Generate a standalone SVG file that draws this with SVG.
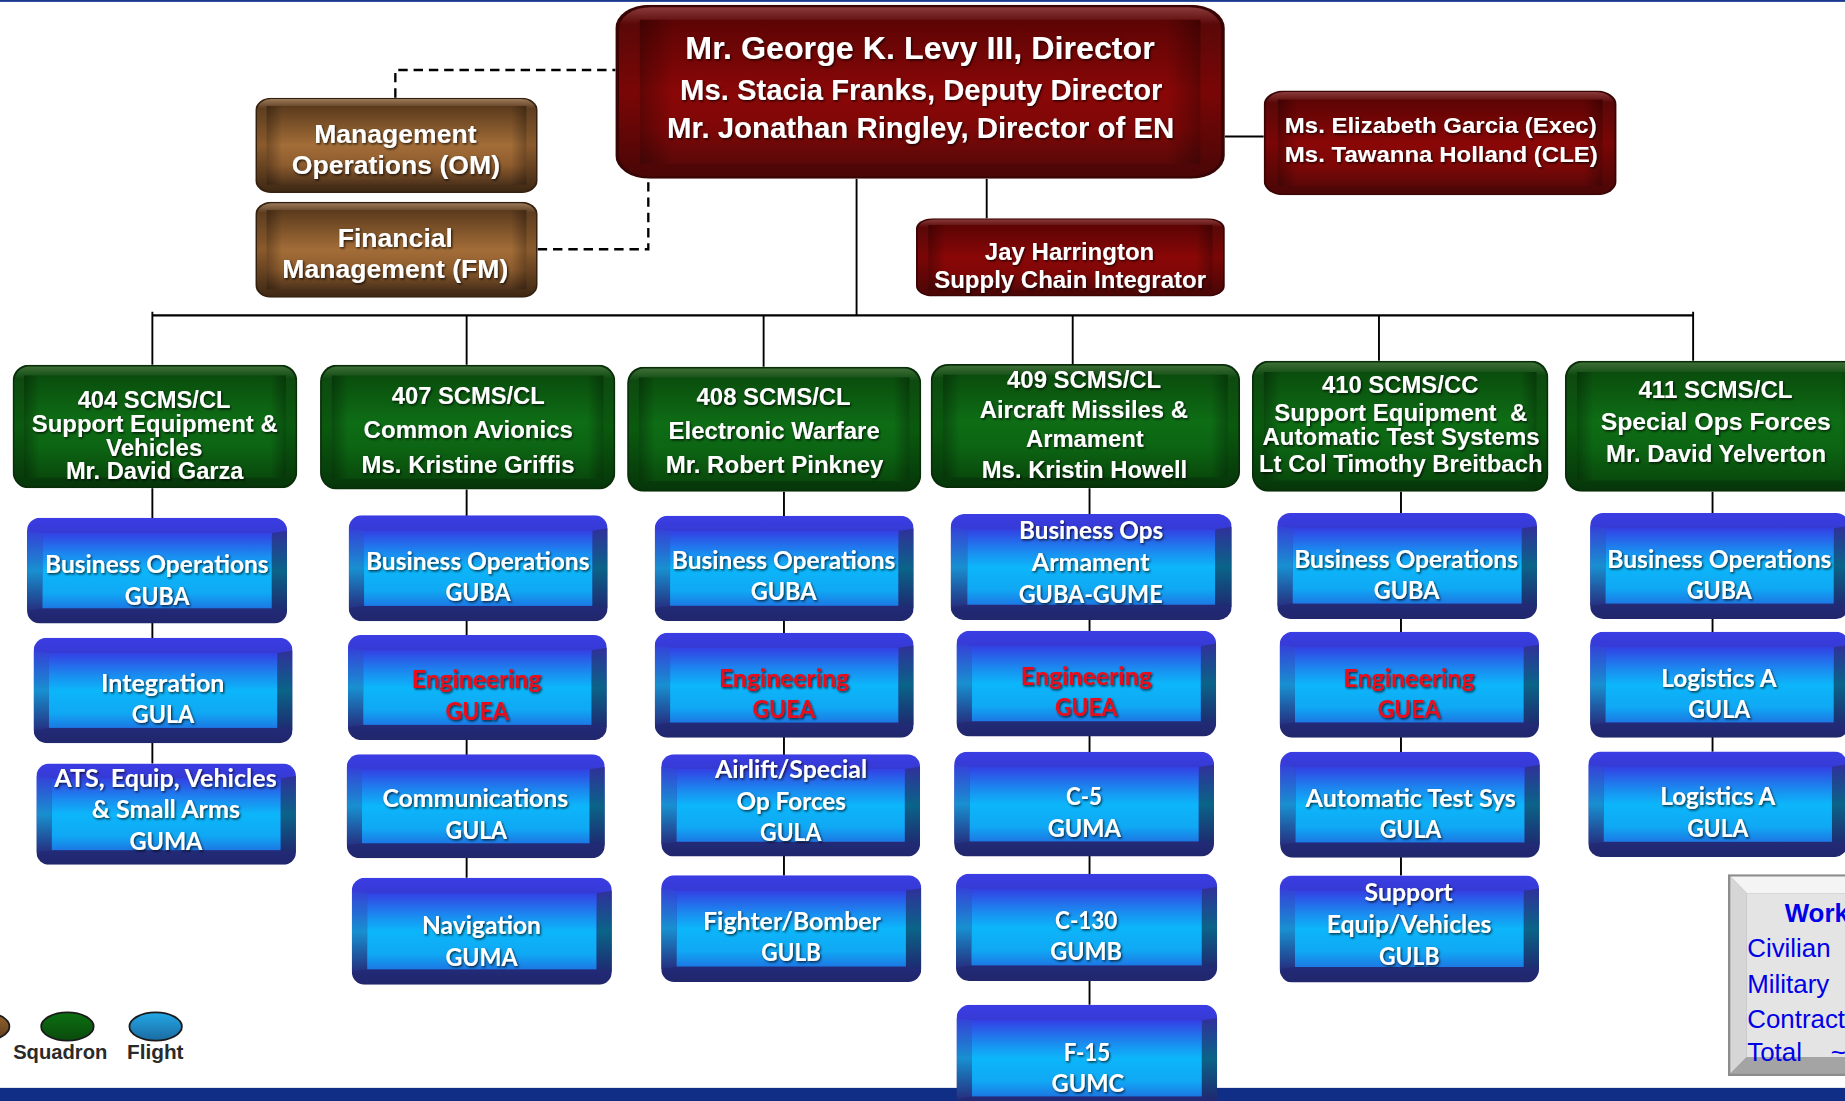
<svg xmlns="http://www.w3.org/2000/svg" width="1845" height="1101" viewBox="0 0 1845 1101">
<style>
.a{fill:#fff;font-family:"Liberation Sans",Arial,sans-serif;font-weight:700;text-anchor:middle}
.c{fill:#fff;font-family:Lato,"Open Sans",sans-serif;font-weight:700;text-anchor:middle;font-size:20.5px}
.r{fill:#e8101c}
.cn{stroke:#000;stroke-width:1.6;fill:none}
.ds{stroke:#000;stroke-width:2;fill:none;stroke-dasharray:8 5}
.wf{fill:#0000e6;font-family:"Liberation Sans",Arial,sans-serif;font-size:22px}
.lg{fill:#2a2a2a;font-family:"Liberation Sans",Arial,sans-serif;font-weight:700;font-size:17px;text-anchor:middle}
</style>
<defs>
<filter id="sh" x="-10%" y="-30%" width="120%" height="160%"><feDropShadow dx="1" dy="1.2" stdDeviation="0.7" flood-color="#000" flood-opacity="0.75"/></filter>
<linearGradient id="edge" x1="0" y1="0" x2="1" y2="0"><stop offset="0" stop-color="#000" stop-opacity="0.3"/><stop offset="0.06" stop-color="#000" stop-opacity="0"/><stop offset="0.94" stop-color="#000" stop-opacity="0"/><stop offset="1" stop-color="#000" stop-opacity="0.3"/></linearGradient>
<linearGradient id="gO" x1="0" y1="0" x2="0" y2="1"><stop offset="0" stop-color="#3d6e36"/><stop offset="0.1" stop-color="#0e4a10"/><stop offset="0.5" stop-color="#0a5a0e"/><stop offset="1" stop-color="#06360a"/></linearGradient>
<linearGradient id="gF" x1="0" y1="0" x2="0" y2="1"><stop offset="0" stop-color="#0a4d0d"/><stop offset="0.45" stop-color="#0e6d15"/><stop offset="0.7" stop-color="#0c6513"/><stop offset="1" stop-color="#094a0c"/></linearGradient>
<linearGradient id="rO" x1="0" y1="0" x2="0" y2="1"><stop offset="0" stop-color="#8a3a3a"/><stop offset="0.1" stop-color="#5a0808"/><stop offset="0.5" stop-color="#7a0606"/><stop offset="1" stop-color="#4a0606"/></linearGradient>
<linearGradient id="rF" x1="0" y1="0" x2="0" y2="1"><stop offset="0" stop-color="#5c0404"/><stop offset="0.5" stop-color="#8a0707"/><stop offset="0.75" stop-color="#800707"/><stop offset="1" stop-color="#5a0808"/></linearGradient>
<linearGradient id="bO" x1="0" y1="0" x2="0" y2="1"><stop offset="0" stop-color="#9a7a5a"/><stop offset="0.1" stop-color="#5e3e20"/><stop offset="0.5" stop-color="#8a5a2c"/><stop offset="1" stop-color="#3e2814"/></linearGradient>
<linearGradient id="bF" x1="0" y1="0" x2="0" y2="1"><stop offset="0" stop-color="#5a3a1c"/><stop offset="0.5" stop-color="#a36d38"/><stop offset="0.75" stop-color="#8e5c2e"/><stop offset="1" stop-color="#4d321b"/></linearGradient>
<linearGradient id="fO" x1="0" y1="0" x2="0" y2="1"><stop offset="0" stop-color="#3b3de4"/><stop offset="0.25" stop-color="#3238c8"/><stop offset="0.75" stop-color="#252c80"/><stop offset="1" stop-color="#20276c"/></linearGradient>
<linearGradient id="fF" x1="0" y1="0" x2="0" y2="1"><stop offset="0" stop-color="#3340e4"/><stop offset="0.3" stop-color="#1a8cf0"/><stop offset="0.5" stop-color="#0cb6fa"/><stop offset="0.8" stop-color="#10a8f4"/><stop offset="1" stop-color="#1c78e4"/></linearGradient>
<linearGradient id="fL" x1="0" y1="0" x2="0" y2="1"><stop offset="0" stop-color="#3540d8"/><stop offset="0.5" stop-color="#1890d0"/><stop offset="1" stop-color="#253080"/></linearGradient>
<linearGradient id="fR" x1="0" y1="0" x2="0" y2="1"><stop offset="0" stop-color="#30309a"/><stop offset="0.5" stop-color="#0a6488"/><stop offset="1" stop-color="#1e2a70"/></linearGradient>
<linearGradient id="grn" x1="0" y1="0" x2="0" y2="1"><stop offset="0" stop-color="#0c7012"/><stop offset="1" stop-color="#0a4a0c"/></linearGradient>
<linearGradient id="blu" x1="0" y1="0" x2="0" y2="1"><stop offset="0" stop-color="#24a8e8"/><stop offset="1" stop-color="#1a6aa0"/></linearGradient>
<linearGradient id="brn" x1="0" y1="0" x2="0" y2="1"><stop offset="0" stop-color="#9a6630"/><stop offset="1" stop-color="#5a3a1c"/></linearGradient>
<symbol id="sq" viewBox="0 0 250 104" preserveAspectRatio="none">
<rect width="250" height="104" rx="14" fill="#082e09"/>
<rect x="1.5" y="1.5" width="247" height="101" rx="13" fill="url(#gO)"/>
<rect x="10" y="9" width="230" height="86" fill="url(#gF)"/>
<rect x="10" y="9" width="230" height="86" fill="url(#edge)"/>
</symbol>
<symbol id="rd" viewBox="0 0 250 104" preserveAspectRatio="none">
<rect width="250" height="104" rx="14" fill="#3a0404"/>
<rect x="1.5" y="1.5" width="247" height="101" rx="13" fill="url(#rO)"/>
<rect x="10" y="9" width="230" height="86" fill="url(#rF)"/>
<rect x="10" y="9" width="230" height="86" fill="url(#edge)"/>
</symbol>
<symbol id="br" viewBox="0 0 250 104" preserveAspectRatio="none">
<rect width="250" height="104" rx="14" fill="#34200f"/>
<rect x="1.5" y="1.5" width="247" height="101" rx="13" fill="url(#bO)"/>
<rect x="10" y="9" width="230" height="86" fill="url(#bF)"/>
<rect x="10" y="9" width="230" height="86" fill="url(#edge)"/>
</symbol>
<symbol id="fl" viewBox="0 0 220 90" preserveAspectRatio="none">
<rect width="220" height="90" rx="11" fill="url(#fO)"/>
<path d="M0,11 L13,13 L13,77 L0,79Z" fill="url(#fL)"/>
<path d="M220,11 L207,13 L207,77 L220,79Z" fill="url(#fR)"/>
<rect x="13" y="13" width="194" height="64" fill="url(#fF)"/>
</symbol>
<symbol id="gy" viewBox="0 0 220 170" preserveAspectRatio="none">
<rect width="220" height="170" fill="#8c8c8c"/>
<path d="M2,2 H218 L204,16 H16Z" fill="#f4f4f4"/>
<path d="M2,2 L16,16 V154 L2,168Z" fill="#d6d6d6"/>
<path d="M218,2 L204,16 V154 L218,168Z" fill="#b0b0b0"/>
<path d="M2,168 L16,154 H204 L218,168Z" fill="#a4a4a4"/>
<rect x="16" y="16" width="188" height="138" fill="#e4e4e4"/>
</symbol>
</defs>
<rect width="1845" height="1101" fill="#fff"/>
<g transform="scale(1.1766)">
<rect x="0" y="0" width="1570" height="1.6" fill="#1b3a8f"/>
<rect x="0" y="924.6" width="1570" height="12" fill="#102e86"/>

<g id="connectors">
<path class="cn" d="M728,152 V268"/>
<path class="cn" d="M838.6,152 V185.5"/>
<path class="cn" d="M1041,116 H1074"/>
<path class="cn" style="stroke-width:2" d="M129.5,268 H1439"/>
<path class="cn" d="M129.5,265 V310 M396.6,268 V310 M649,268 V311.6 M911.7,268 V309.4 M1172,268 V306.5 M1439,265 V306.5"/>
<path class="cn" d="M129.5,415 V649 M396.6,416 V746 M666.3,418 V744 M926,415 V854 M1190.7,418 V744 M1455.5,418 V639"/>
<path class="ds" d="M336,83 V59.5 H523"/>
<path class="ds" d="M457,211.8 H551 V152"/>
</g>

<g id="director">
<use href="#rd" x="523" y="4" width="518" height="148"/>
<g filter="url(#sh)">
<text class="a" x="782" y="50.5" font-size="27" textLength="399" lengthAdjust="spacingAndGlyphs">Mr. George K. Levy III, Director</text>
<text class="a" x="783" y="85" font-size="24.5" textLength="410" lengthAdjust="spacingAndGlyphs">Ms. Stacia Franks, Deputy Director</text>
<text class="a" x="782.5" y="117.6" font-size="24.5" textLength="431" lengthAdjust="spacingAndGlyphs">Mr. Jonathan Ringley, Director of EN</text>
</g>
</g>
<g id="mgmt-ops">
<use href="#br" x="217" y="83" width="240" height="81"/>
<g filter="url(#sh)">
<text class="a" x="336" y="121.8" font-size="22" textLength="138" lengthAdjust="spacingAndGlyphs">Management</text>
<text class="a" x="336.5" y="148" font-size="22" textLength="177" lengthAdjust="spacingAndGlyphs">Operations (OM)</text>
</g>
</g>
<g id="fin-mgmt">
<use href="#br" x="217" y="171.5" width="240" height="81.5"/>
<g filter="url(#sh)">
<text class="a" x="336" y="210" font-size="22" textLength="98" lengthAdjust="spacingAndGlyphs">Financial</text>
<text class="a" x="336" y="236.5" font-size="22" textLength="192" lengthAdjust="spacingAndGlyphs">Management (FM)</text>
</g>
</g>
<g id="exec">
<use href="#rd" x="1074" y="77" width="300" height="89"/>
<g filter="url(#sh)">
<text class="a" x="1224.5" y="113" font-size="19.5" textLength="265" lengthAdjust="spacingAndGlyphs">Ms. Elizabeth Garcia (Exec)</text>
<text class="a" x="1225" y="137.5" font-size="19.5" textLength="266" lengthAdjust="spacingAndGlyphs">Ms. Tawanna Holland (CLE)</text>
</g>
</g>
<g id="sci">
<use href="#rd" x="778.5" y="185.5" width="262.5" height="66.5"/>
<g filter="url(#sh)">
<text class="a" x="909" y="221" font-size="20" textLength="144" lengthAdjust="spacingAndGlyphs">Jay Harrington</text>
<text class="a" x="909.5" y="245" font-size="20" textLength="231" lengthAdjust="spacingAndGlyphs">Supply Chain Integrator</text>
</g>
</g>

<g id="sq404">
<use href="#sq" x="10.7" y="310" width="242" height="105"/>
<g filter="url(#sh)" font-size="20.5">
<text class="a" x="131" y="346.8" textLength="130" lengthAdjust="spacingAndGlyphs">404 SCMS/CL</text>
<text class="a" x="131.5" y="367" textLength="209" lengthAdjust="spacingAndGlyphs">Support Equipment &amp;</text>
<text class="a" x="131" y="387.6" textLength="82" lengthAdjust="spacingAndGlyphs">Vehicles</text>
<text class="a" x="131.5" y="407" textLength="151" lengthAdjust="spacingAndGlyphs">Mr. David Garza</text>
</g>
</g>
<g id="sq407">
<use href="#sq" x="272" y="310" width="251" height="106"/>
<g filter="url(#sh)" font-size="20.5">
<text class="a" x="398" y="343" textLength="130" lengthAdjust="spacingAndGlyphs">407 SCMS/CL</text>
<text class="a" x="398" y="372" textLength="178" lengthAdjust="spacingAndGlyphs">Common Avionics</text>
<text class="a" x="397.8" y="402" textLength="181" lengthAdjust="spacingAndGlyphs">Ms. Kristine Griffis</text>
</g>
</g>
<g id="sq408">
<use href="#sq" x="533" y="311.6" width="250" height="106.4"/>
<g filter="url(#sh)" font-size="20.5">
<text class="a" x="657.5" y="344" textLength="131" lengthAdjust="spacingAndGlyphs">408 SCMS/CL</text>
<text class="a" x="658" y="373.3" textLength="179.5" lengthAdjust="spacingAndGlyphs">Electronic Warfare</text>
<text class="a" x="658.3" y="402" textLength="185" lengthAdjust="spacingAndGlyphs">Mr. Robert Pinkney</text>
</g>
</g>
<g id="sq409">
<use href="#sq" x="791" y="309.4" width="263" height="105.4"/>
<g filter="url(#sh)" font-size="20.5">
<text class="a" x="921.4" y="329.5" textLength="131" lengthAdjust="spacingAndGlyphs">409 SCMS/CL</text>
<text class="a" x="921.2" y="355.4" textLength="177" lengthAdjust="spacingAndGlyphs">Aircraft Missiles &amp;</text>
<text class="a" x="922" y="380" textLength="100" lengthAdjust="spacingAndGlyphs">Armament</text>
<text class="a" x="921.7" y="406" textLength="174.6" lengthAdjust="spacingAndGlyphs">Ms. Kristin Howell</text>
</g>
</g>
<g id="sq410">
<use href="#sq" x="1064" y="306.5" width="252" height="111.5"/>
<g filter="url(#sh)" font-size="20.5">
<text class="a" x="1190" y="334" textLength="133" lengthAdjust="spacingAndGlyphs">410 SCMS/CC</text>
<text class="a" x="1190.5" y="357.8" textLength="215" lengthAdjust="spacingAndGlyphs" xml:space="preserve">Support Equipment  &amp;</text>
<text class="a" x="1190.8" y="378.2" textLength="235.6" lengthAdjust="spacingAndGlyphs">Automatic Test Systems</text>
<text class="a" x="1190.5" y="400.8" textLength="241" lengthAdjust="spacingAndGlyphs">Lt Col Timothy Breitbach</text>
</g>
</g>
<g id="sq411">
<use href="#sq" x="1330" y="306.5" width="258" height="111.5"/>
<g filter="url(#sh)" font-size="20.5">
<text class="a" x="1458" y="338" textLength="131" lengthAdjust="spacingAndGlyphs">411 SCMS/CL</text>
<text class="a" x="1458.2" y="365.5" textLength="195.6" lengthAdjust="spacingAndGlyphs">Special Ops Forces</text>
<text class="a" x="1458.5" y="393" textLength="187" lengthAdjust="spacingAndGlyphs">Mr. David Yelverton</text>
</g>
</g>

<g id="f404-guba"><use href="#fl" x="23" y="440" width="221" height="90"/><g filter="url(#sh)">
<text class="c" x="133.3" y="487" textLength="190" lengthAdjust="spacingAndGlyphs">Business Operations</text>
<text class="c" x="133.5" y="514" textLength="55" lengthAdjust="spacingAndGlyphs">GUBA</text></g></g>
<g id="f404-gula"><use href="#fl" x="28.6" y="542" width="220" height="89.6"/><g filter="url(#sh)">
<text class="c" x="138.3" y="588" textLength="105" lengthAdjust="spacingAndGlyphs">Integration</text>
<text class="c" x="138.5" y="614.7" textLength="53" lengthAdjust="spacingAndGlyphs">GULA</text></g></g>
<g id="f404-guma"><use href="#fl" x="31" y="649" width="220.5" height="86"/><g filter="url(#sh)">
<text class="c" x="140.7" y="668.6" textLength="189" lengthAdjust="spacingAndGlyphs">ATS, Equip, Vehicles</text>
<text class="c" x="141" y="695" textLength="126" lengthAdjust="spacingAndGlyphs">&amp; Small Arms</text>
<text class="c" x="141" y="722" textLength="62" lengthAdjust="spacingAndGlyphs">GUMA</text></g></g>

<g id="f407-guba"><use href="#fl" x="296.4" y="438" width="220" height="90"/><g filter="url(#sh)">
<text class="c" x="406" y="484.4" textLength="190" lengthAdjust="spacingAndGlyphs">Business Operations</text>
<text class="c" x="406.3" y="510.5" textLength="55.3" lengthAdjust="spacingAndGlyphs">GUBA</text></g></g>
<g id="f407-guea"><use href="#fl" x="295.7" y="539.7" width="220" height="89.3"/><g filter="url(#sh)">
<text class="c r" x="405" y="585" textLength="110" lengthAdjust="spacingAndGlyphs">Engineering</text>
<text class="c r" x="405.6" y="612" textLength="54" lengthAdjust="spacingAndGlyphs">GUEA</text></g></g>
<g id="f407-gula"><use href="#fl" x="294.7" y="641" width="219.3" height="88.5"/><g filter="url(#sh)">
<text class="c" x="404" y="686" textLength="158" lengthAdjust="spacingAndGlyphs">Communications</text>
<text class="c" x="404.8" y="713" textLength="52.3" lengthAdjust="spacingAndGlyphs">GULA</text></g></g>
<g id="f407-guma"><use href="#fl" x="299" y="746" width="221" height="91"/><g filter="url(#sh)">
<text class="c" x="409.2" y="794" textLength="101" lengthAdjust="spacingAndGlyphs">Navigation</text>
<text class="c" x="409.3" y="821" textLength="61.3" lengthAdjust="spacingAndGlyphs">GUMA</text></g></g>

<g id="f408-guba"><use href="#fl" x="556.5" y="438.3" width="220" height="89.5"/><g filter="url(#sh)">
<text class="c" x="666" y="483.8" textLength="190" lengthAdjust="spacingAndGlyphs">Business Operations</text>
<text class="c" x="666" y="510" textLength="56" lengthAdjust="spacingAndGlyphs">GUBA</text></g></g>
<g id="f408-guea"><use href="#fl" x="556.5" y="537.7" width="220" height="89.3"/><g filter="url(#sh)">
<text class="c r" x="666.3" y="583.6" textLength="110.6" lengthAdjust="spacingAndGlyphs">Engineering</text>
<text class="c r" x="666.2" y="610" textLength="53.5" lengthAdjust="spacingAndGlyphs">GUEA</text></g></g>
<g id="f408-gula"><use href="#fl" x="562" y="641" width="220" height="87"/><g filter="url(#sh)">
<text class="c" x="672.3" y="661" textLength="129.3" lengthAdjust="spacingAndGlyphs">Airlift/Special</text>
<text class="c" x="672.5" y="688" textLength="93" lengthAdjust="spacingAndGlyphs">Op Forces</text>
<text class="c" x="672" y="715" textLength="52" lengthAdjust="spacingAndGlyphs">GULA</text></g></g>
<g id="f408-gulb"><use href="#fl" x="562" y="743.8" width="221" height="90.8"/><g filter="url(#sh)">
<text class="c" x="673.1" y="790.4" textLength="151.2" lengthAdjust="spacingAndGlyphs">Fighter/Bomber</text>
<text class="c" x="672.4" y="817" textLength="50.7" lengthAdjust="spacingAndGlyphs">GULB</text></g></g>

<g id="f409-guba-gume"><use href="#fl" x="808" y="436.8" width="238.8" height="90.2"/><g filter="url(#sh)">
<text class="c" x="927.3" y="458" textLength="122.6" lengthAdjust="spacingAndGlyphs">Business Ops</text>
<text class="c" x="927" y="485" textLength="100" lengthAdjust="spacingAndGlyphs">Armament</text>
<text class="c" x="926.9" y="512.6" textLength="122.3" lengthAdjust="spacingAndGlyphs">GUBA-GUME</text></g></g>
<g id="f409-guea"><use href="#fl" x="813" y="536" width="220.6" height="90"/><g filter="url(#sh)">
<text class="c r" x="923.3" y="582" textLength="111.3" lengthAdjust="spacingAndGlyphs">Engineering</text>
<text class="c r" x="923.2" y="608.5" textLength="53" lengthAdjust="spacingAndGlyphs">GUEA</text></g></g>
<g id="f409-guma"><use href="#fl" x="811" y="639" width="220.8" height="89"/><g filter="url(#sh)">
<text class="c" x="921.3" y="684" textLength="30.5" lengthAdjust="spacingAndGlyphs">C-5</text>
<text class="c" x="921.6" y="711" textLength="62.2" lengthAdjust="spacingAndGlyphs">GUMA</text></g></g>
<g id="f409-gumb"><use href="#fl" x="812.5" y="742.5" width="222" height="91.2"/><g filter="url(#sh)">
<text class="c" x="923.2" y="789.6" textLength="53" lengthAdjust="spacingAndGlyphs">C-130</text>
<text class="c" x="923.1" y="815.6" textLength="61" lengthAdjust="spacingAndGlyphs">GUMB</text></g></g>
<g id="f409-gumc"><use href="#fl" x="813" y="854" width="221.5" height="91"/><g filter="url(#sh)">
<text class="c" x="923.8" y="901.7" textLength="39.6" lengthAdjust="spacingAndGlyphs">F-15</text>
<text class="c" x="924.6" y="928" textLength="61.7" lengthAdjust="spacingAndGlyphs">GUMC</text></g></g>

<g id="f410-guba"><use href="#fl" x="1085.6" y="436" width="220.7" height="90"/><g filter="url(#sh)">
<text class="c" x="1195" y="483" textLength="190.2" lengthAdjust="spacingAndGlyphs">Business Operations</text>
<text class="c" x="1195.5" y="509" textLength="55.7" lengthAdjust="spacingAndGlyphs">GUBA</text></g></g>
<g id="f410-guea"><use href="#fl" x="1087.6" y="537" width="220.4" height="90"/><g filter="url(#sh)">
<text class="c r" x="1197.5" y="583.6" textLength="111.5" lengthAdjust="spacingAndGlyphs">Engineering</text>
<text class="c r" x="1197.6" y="610" textLength="53.3" lengthAdjust="spacingAndGlyphs">GUEA</text></g></g>
<g id="f410-gula"><use href="#fl" x="1088" y="639" width="220.7" height="90"/><g filter="url(#sh)">
<text class="c" x="1199" y="685.6" textLength="178.7" lengthAdjust="spacingAndGlyphs">Automatic Test Sys</text>
<text class="c" x="1198.8" y="712" textLength="52.4" lengthAdjust="spacingAndGlyphs">GULA</text></g></g>
<g id="f410-gulb"><use href="#fl" x="1087.6" y="744" width="220.4" height="91"/><g filter="url(#sh)">
<text class="c" x="1197.3" y="765.4" textLength="75" lengthAdjust="spacingAndGlyphs">Support</text>
<text class="c" x="1197.6" y="792.7" textLength="140" lengthAdjust="spacingAndGlyphs">Equip/Vehicles</text>
<text class="c" x="1197.7" y="819.9" textLength="51.4" lengthAdjust="spacingAndGlyphs">GULB</text></g></g>

<g id="f411-guba"><use href="#fl" x="1351.5" y="436" width="220" height="90"/><g filter="url(#sh)">
<text class="c" x="1461.3" y="483" textLength="190.5" lengthAdjust="spacingAndGlyphs">Business Operations</text>
<text class="c" x="1461.3" y="509" textLength="55.4" lengthAdjust="spacingAndGlyphs">GUBA</text></g></g>
<g id="f411-gula-1"><use href="#fl" x="1351.5" y="537" width="220" height="90"/><g filter="url(#sh)">
<text class="c" x="1461" y="583.6" textLength="98" lengthAdjust="spacingAndGlyphs">Logistics A</text>
<text class="c" x="1461.2" y="610" textLength="52.5" lengthAdjust="spacingAndGlyphs">GULA</text></g></g>
<g id="f411-gula-2"><use href="#fl" x="1350" y="638.8" width="220" height="89.6"/><g filter="url(#sh)">
<text class="c" x="1460" y="684" textLength="98" lengthAdjust="spacingAndGlyphs">Logistics A</text>
<text class="c" x="1460" y="711" textLength="52" lengthAdjust="spacingAndGlyphs">GULA</text></g></g>

<g id="workforce">
<use href="#gy" x="1468.6" y="743" width="220" height="171.5"/>
<text class="wf" x="1516.8" y="784" font-weight="700">Work</text>
<text class="wf" x="1485" y="813.4">Civilian</text>
<text class="wf" x="1485" y="843.7">Military</text>
<text class="wf" x="1485" y="873.7">Contract</text>
<text class="wf" x="1485" y="901.6">Total<tspan x="1556">~</tspan></text>
</g>

<g id="legend">
<ellipse cx="-14" cy="872.5" rx="22" ry="12" fill="url(#brn)" stroke="#1a1a1a" stroke-width="1.5"/>
<ellipse cx="57.3" cy="872.5" rx="22.3" ry="12" fill="url(#grn)" stroke="#1a1a1a" stroke-width="1.5"/>
<ellipse cx="132.3" cy="872.5" rx="22.3" ry="12" fill="url(#blu)" stroke="#1a1a1a" stroke-width="1.5"/>
<text class="lg" x="51.2" y="900" textLength="80" lengthAdjust="spacingAndGlyphs">Squadron</text>
<text class="lg" x="132" y="900" textLength="48" lengthAdjust="spacingAndGlyphs">Flight</text>
</g>
</g>
</svg>
